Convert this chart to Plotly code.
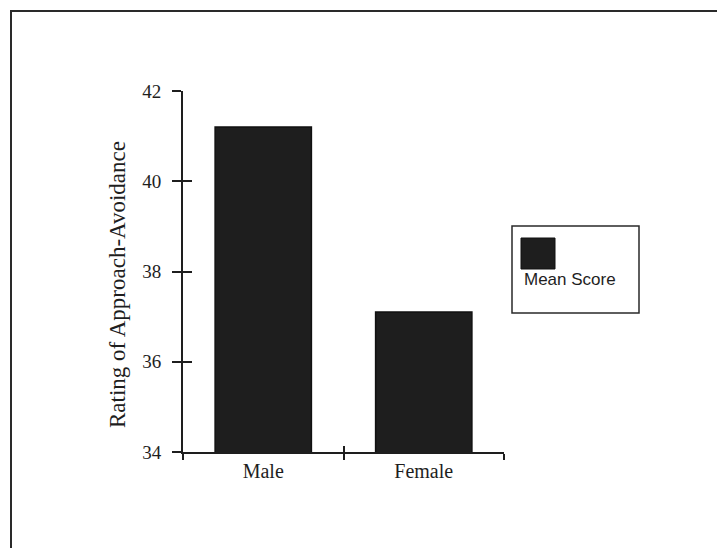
import plotly.graph_objects as go

categories = ["Male", "Female"]
mean_scores = [41.2, 37.1]
y_ticks = [34, 36, 38, 40, 42]
series_name = "Mean Score"
y_title = "Rating of Approach-Avoidance"

W, H = 717, 548
L, R, T, B = 183, 213, 91, 96
PW, PH = W - L - R, H - T - B

def px_x(px):
    return (px - L) / PW

def px_y(py):
    return (H - B - py) / PH

ink = "#1e1e1e"
bar_fill = "#1e1e1e"

fig = go.Figure()
fig.add_trace(go.Bar(
    x=categories, y=mean_scores, name=series_name,
    marker=dict(color=bar_fill, line=dict(color="#111", width=1.5)),
    showlegend=False, hoverinfo="skip",
))
# helper trace for mirrored ticks
fig.add_trace(go.Scatter(
    x=categories, y=mean_scores, xaxis="x2", yaxis="y2",
    mode="markers", marker=dict(opacity=0), showlegend=False, hoverinfo="skip",
))

serif = "Liberation Serif"
fig.update_layout(
    width=W, height=H,
    margin=dict(l=L, r=R, t=T, b=B, pad=0),
    paper_bgcolor="white", plot_bgcolor="white",
    bargap=0.4,
    xaxis=dict(
        type="category", range=[-0.5, 1.5], tickson="boundaries",
        showline=True, linecolor=ink, linewidth=2,
        ticks="outside", ticklen=6, tickwidth=2, tickcolor=ink,
        showgrid=False, zeroline=False,
        tickfont=dict(family=serif, size=20, color=ink),
    ),
    yaxis=dict(
        range=[34, 42], tickvals=y_ticks,
        showline=True, linecolor=ink, linewidth=2,
        ticks="outside", ticklen=9, tickwidth=2, tickcolor=ink,
        ticklabelstandoff=7,
        showgrid=False, zeroline=False,
        tickfont=dict(family=serif, size=19, color=ink),
    ),
    xaxis2=dict(
        type="category", range=[-0.5, 1.5], tickson="boundaries",
        overlaying="x", anchor="y2", side="bottom",
        ticks="inside", ticklen=6, tickwidth=2, tickcolor=ink,
        showticklabels=False, showgrid=False, zeroline=False, showline=False,
    ),
    yaxis2=dict(
        range=[34, 42], tickvals=y_ticks,
        overlaying="y", anchor="x2", side="left",
        ticks="inside", ticklen=9, tickwidth=2, tickcolor=ink,
        showticklabels=False, showgrid=False, zeroline=False, showline=False,
    ),
    shapes=[
        # outer frame
        dict(type="rect", xref="paper", yref="paper",
             x0=px_x(11), x1=px_x(W + 20), y0=px_y(H + 20), y1=px_y(11),
             line=dict(color="#2a2a2a", width=2)),
        # legend box
        dict(type="rect", xref="paper", yref="paper",
             x0=px_x(512), x1=px_x(639), y0=px_y(313), y1=px_y(226),
             line=dict(color="#2a2a2a", width=1.5), fillcolor="white"),
        # legend swatch
        dict(type="rect", xref="paper", yref="paper",
             x0=px_x(521), x1=px_x(555), y0=px_y(269), y1=px_y(238),
             line=dict(color="#111", width=1), fillcolor=bar_fill),
    ],
    annotations=[
        dict(text=y_title, xref="paper", yref="paper",
             x=px_x(117), y=px_y(285), textangle=-90, showarrow=False,
             xanchor="center", yanchor="middle",
             font=dict(family=serif, size=23, color=ink)),
        dict(text=series_name, xref="paper", yref="paper",
             x=px_x(522), y=px_y(279), showarrow=False,
             xanchor="left", yanchor="middle",
             font=dict(family="Liberation Sans", size=17, color=ink)),
    ],
)

fig.write_html("out.html", config={"displayModeBar": False},
               post_script="document.body.style.margin='0';")
